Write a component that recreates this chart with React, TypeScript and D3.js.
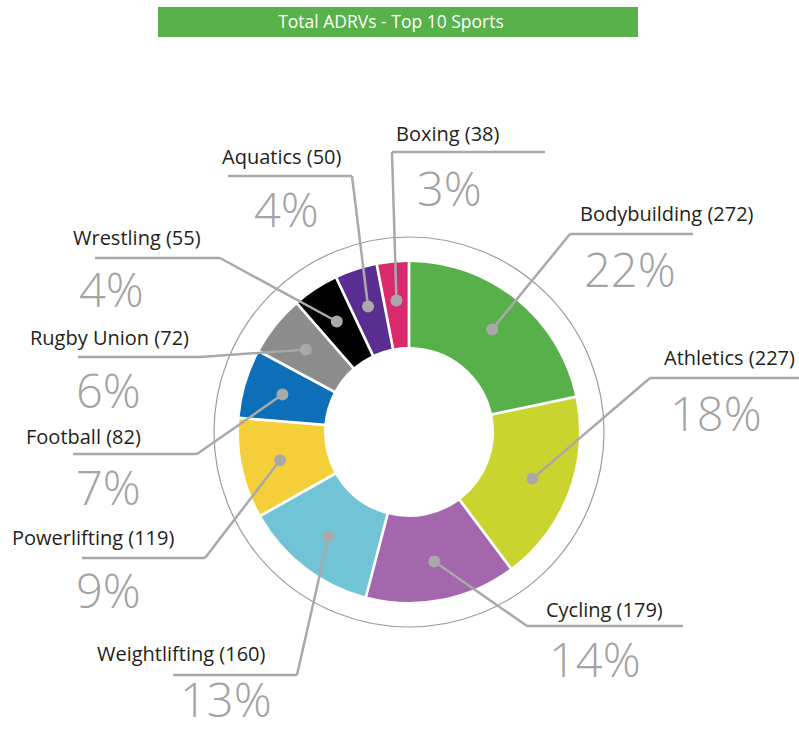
import React from "react";
import * as d3 from "d3";

const sports = ["Bodybuilding", "Athletics", "Cycling", "Weightlifting", "Powerlifting", "Football", "Rugby Union", "Wrestling", "Aquatics", "Boxing"];
const counts = [272, 227, 179, 160, 119, 82, 72, 55, 50, 38];
const colors = ["#57b04a", "#c9d42f", "#a466ad", "#71c4d5", "#f5cf3a", "#0d6fb8", "#8d8d8d", "#000000", "#5a2e91", "#da2a6e"];
const title = "Total ADRVs - Top 10 Sports";

// annotation layout: leader line y, line start/end x, elbow x, label pos, percent pos
const labelLayout = [
  { ly: 234, lx1: 570, lx2: 693, ex: 570, tx: 580, ty: 221, px: 584, py: 287 },
  { ly: 378, lx1: 650, lx2: 799, ex: 650, tx: 664, ty: 365, px: 670, py: 431 },
  { ly: 626, lx1: 527, lx2: 683, ex: 527, tx: 546, ty: 617, px: 549, py: 677 },
  { ly: 675, lx1: 173, lx2: 297, ex: 297, tx: 97, ty: 661, px: 180, py: 717 },
  { ly: 558, lx1: 82, lx2: 205, ex: 205, tx: 12, ty: 545, px: 76, py: 608 },
  { ly: 454, lx1: 73, lx2: 197, ex: 197, tx: 26, ty: 444, px: 76, py: 505 },
  { ly: 357, lx1: 78, lx2: 200, ex: 200, tx: 30, ty: 345, px: 76, py: 408 },
  { ly: 258, lx1: 95, lx2: 220, ex: 220, tx: 73, ty: 245, px: 79, py: 307 },
  { ly: 176, lx1: 228, lx2: 352, ex: 352, tx: 222, ty: 164, px: 254, py: 227 },
  { ly: 152, lx1: 392, lx2: 545, ex: 392, tx: 396, ty: 141, px: 417, py: 206 },
];

export default function App() {
  const W = 799, H = 729;
  const cx = 409, cy = 432;
  const rOuter = 170, rInner = 85, rRing = 195;
  const total = d3.sum(counts);
  const data = sports.map((s, i) => ({ name: s, value: counts[i], color: colors[i], layout: labelLayout[i] }));
  const pie = d3.pie<any>().value((d) => d.value).sort(null).startAngle(0).endAngle(2 * Math.PI);
  const arcs = pie(data);
  const arc = d3.arc<any>().innerRadius(rInner).outerRadius(rOuter).padAngle(0.025).padRadius(110);
  const dotArc = d3.arc<any>().innerRadius(132).outerRadius(132);
  const lineColor = "#a9a9a9";
  const font = "'Open Sans', sans-serif";

  return (
    <svg width={W} height={H} style={{ position: "absolute", left: 0, top: 0, background: "#fff" }}>
      <rect x={158} y={7} width={480} height={30} fill="#58b14a" />
      <text x={391} y={28} fill="#fff" fontFamily={font} fontSize={17.5} textAnchor="middle">{title}</text>
      <circle cx={cx} cy={cy} r={rRing} fill="none" stroke="#9c9c9c" strokeWidth={1.2} />
      <g transform={`translate(${cx},${cy})`}>
        {arcs.map((a, i) => (
          <path key={i} d={arc(a) as string} fill={a.data.color} />
        ))}
      </g>
      {arcs.map((a, i) => {
        const [dx, dy] = dotArc.centroid(a);
        const L = a.data.layout;
        const x0 = cx + dx, y0 = cy + dy;
        return (
          <g key={i}>
            <polyline points={`${x0},${y0} ${L.ex},${L.ly}`} fill="none" stroke={lineColor} strokeWidth={2.5} />
            <line x1={L.lx1} x2={L.lx2} y1={L.ly} y2={L.ly} stroke={lineColor} strokeWidth={2.5} />
            <circle cx={x0} cy={y0} r={6} fill={lineColor} />
            <text x={L.tx} y={L.ty} fontFamily={font} fontSize={20} fill="#231f20">{`${a.data.name} (${a.data.value})`}</text>
            <text x={L.px} y={L.py} fontFamily={font} fontWeight={300} fontSize={47} fill="#a3a3a3">{`${Math.round((a.data.value / total) * 100)}%`}</text>
          </g>
        );
      })}
    </svg>
  );
}
